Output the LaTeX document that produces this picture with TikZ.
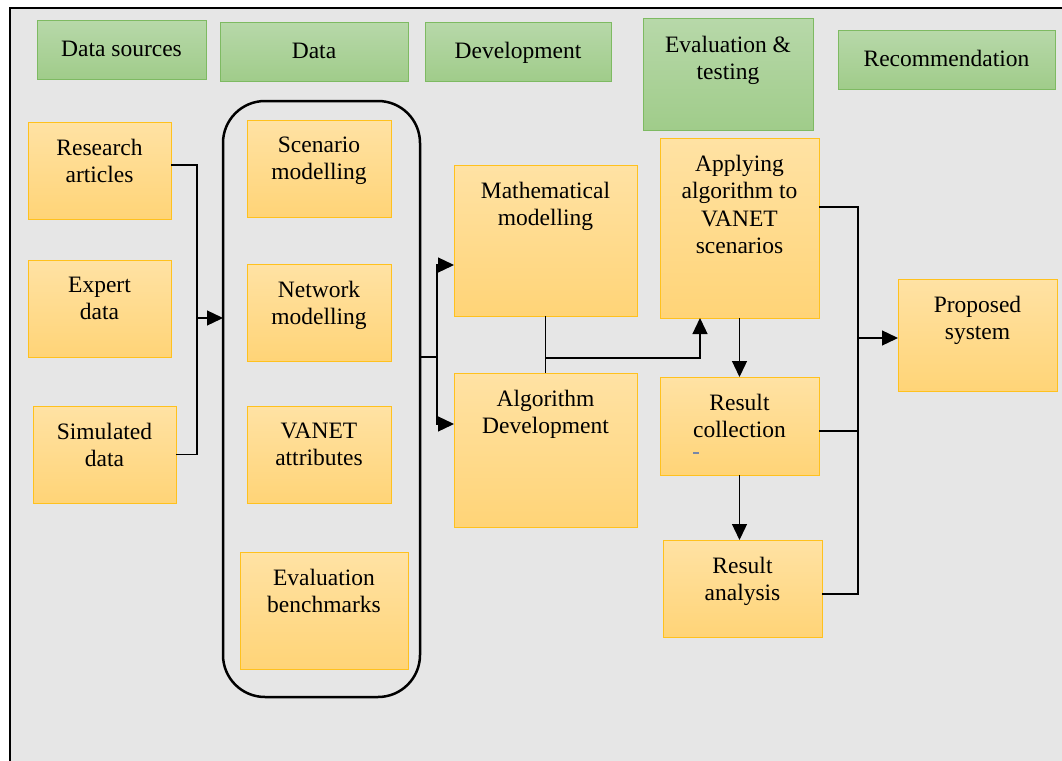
\documentclass[tikz,border=0pt]{standalone}
\usepackage{fontspec}
\setmainfont{Liberation Serif}
\usetikzlibrary{arrows.meta,calc}
\definecolor{bg}{HTML}{E6E6E6}
\definecolor{otop}{HTML}{FFE2A4}
\definecolor{obot}{HTML}{FFD477}
\definecolor{oedge}{HTML}{FFC11E}
\definecolor{gtop}{HTML}{B7D8A9}
\definecolor{gbot}{HTML}{A0CC8A}
\definecolor{gedge}{HTML}{7EBA62}
\definecolor{dashblue}{HTML}{7787A8}
\tikzset{
  obox/.style={draw=oedge, line width=1pt, top color=otop, bottom color=obot, inner sep=0pt, outer sep=0pt},
  gbox/.style={draw=gedge, line width=1pt, top color=gtop, bottom color=gbot, inner sep=0pt, outer sep=0pt},
  boxtext/.style={align=center, inner sep=0pt, font=\fontsize{23.5}{27.5}\selectfont,
    execute at begin node=\strut},
  conn/.style={line width=1.3pt, draw=black},
  arr/.style={conn, -{Triangle[length=16pt,width=15pt]}},
  grp/.style={draw, line width=2.5pt, rounded corners=42pt, inner sep=0pt, outer sep=0pt},
}
% box: style, name, x1, y1, x2, y2, text (text hangs from the top edge)
\newcommand\mkbox[7]{%
  \node[#1, minimum width={(#5)-(#3)}, minimum height={(#6)-(#4)}] (#2)
    at ({((#3)+(#5))/2},{((#4)+(#6))/2}) {};
  \node[boxtext, anchor=north] (#2-t) at ({((#3)+(#5))/2},{(#4)+16.5}) {#7};
}
\begin{document}
\begin{tikzpicture}[x=1pt,y=-1pt]
\clip (0,0) rectangle (1062,760);
% page frame
\fill[bg] (10,8) rectangle (1075,775);
\draw[line width=2.5pt] (10,775) -- (10,8) -- (1075,8);

% column headers
\mkbox{gbox}{h1}{37}{21}{206}{79}{Data sources}
\mkbox{gbox}{h2}{220}{23}{408}{81}{Data}
\mkbox{gbox}{h3}{425}{23}{611}{81}{Development}
\mkbox{gbox}{h4}{643}{19}{813}{130}{Evaluation \&\\testing}
\mkbox{gbox}{h5}{838}{31}{1055}{89}{Recommendation}

% data sources
\mkbox{obox}{ra}{28}{122}{171}{219}{Research\\articles}
\mkbox{obox}{ed}{28}{260}{171}{357}{Expert\\data}
\mkbox{obox}{sd}{33}{406}{176}{503}{Simulated\\data}

% data group
\node[grp, minimum width=197pt, minimum height=596pt] (grp) at (321.5,399) {};
\mkbox{obox}{sm}{247}{120}{391}{217}{Scenario\\modelling}
\mkbox{obox}{nm}{247}{264}{391}{361}{Network\\modelling}
\mkbox{obox}{va}{247}{406}{391}{503}{VANET\\attributes}
\mkbox{obox}{eb}{240}{552}{408}{669}{Evaluation\\benchmarks}

% development
\mkbox{obox}{mm}{454}{165}{637}{316}{Mathematical\\modelling}
\mkbox{obox}{ad}{454}{373}{637}{527}{Algorithm\\Development}

% evaluation and testing
\mkbox{obox}{ap}{660}{138}{819}{318}{Applying\\algorithm to\\VANET\\scenarios}
\mkbox{obox}{rc}{660}{377}{819}{475}{Result\\collection}
\mkbox{obox}{rn}{663}{540}{822}{637}{Result\\analysis}
\draw[dashblue, line width=1.2pt] (693,453) -- (699,453);

% recommendation
\mkbox{obox}{ps}{898}{279}{1057}{391}{Proposed\\system}

% sources into the data group
\coordinate (j1) at (197,318);
\draw[conn] (ra.east |- 0,165) -| (j1);
\draw[conn] (sd.east) -| (j1);
\draw[arr] (j1) -- (j1 -| grp.west);

% data group into development
\coordinate (j2) at (437,357);
\coordinate (j2a) at (437,265);
\coordinate (j2b) at (437,424);
\draw[conn] (grp.east |- j2) -- (j2);
\draw[arr] (j2) -- (j2a) -- (j2a -| mm.west);
\draw[arr] (j2) -- (j2b) -- (j2b -| ad.west);

% development into evaluation
\draw[conn] (mm.south) -- (ad.north);
\coordinate (j3) at (mm.south |- 0,358);
\coordinate (j3b) at (700,358);
\draw[arr] (j3) -- (j3b) -- (j3b |- ap.south);
\draw[arr] (ap.south) -- (rc.north);
\draw[arr] (rc.south) -- (rc.south |- rn.north);

% evaluation into recommendation
\coordinate (j4) at (858,338);
\draw[conn] (ap.east |- 0,207) -| (j4);
\draw[conn] (rc.east |- 0,431) -| (j4);
\draw[conn] (rn.east |- 0,594) -| (j4);
\draw[arr] (j4) -- (j4 -| ps.west);
\end{tikzpicture}
\end{document}
